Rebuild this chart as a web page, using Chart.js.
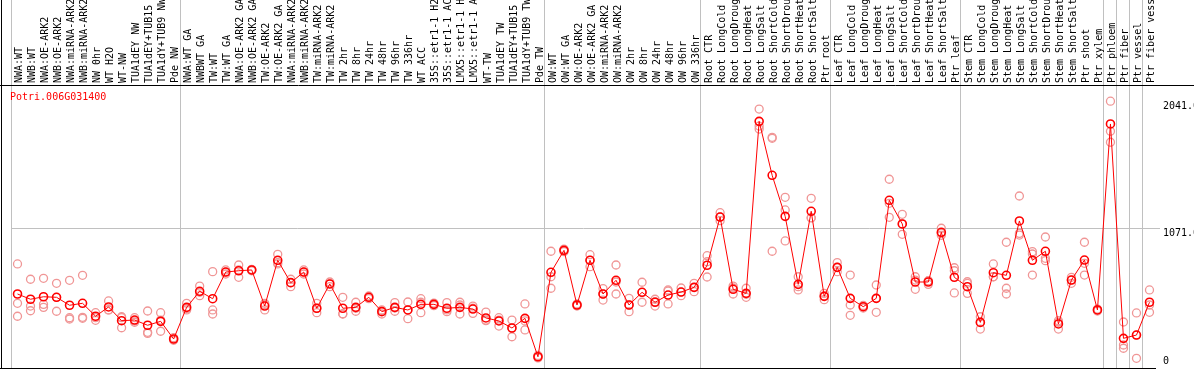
<!DOCTYPE html>
<html>
<head>
<meta charset="utf-8">
<script src="https://cdn.jsdelivr.net/npm/chart.js@4.4.1/dist/chart.umd.min.js"></script>
<style>
html,body{margin:0;padding:0;background:#fff;}
canvas{display:block;}
</style>
</head>
<body>
<canvas id="chart" width="1194" height="370"></canvas>
<script>
var geneName = 'Potri.006G031400';

var sampleLabels = ['NWA:WT','NWB:WT','NWA:OE-ARK2','NWB:OE-ARK2','NWA:miRNA-ARK2','NWB:miRNA-ARK2','NW 0hr','WT H2O','WT-NW','TUA1dEY NW',
  'TUA1dEY+TUB15 NW','TUA1dY+TUB9 NW','Pde NW','NWA:WT GA','NWBWT GA','TW:WT','TW:WT GA','NWA:OE-ARK2 GA','NWB:OE-ARK2 GA','TW:OE-ARK2',
  'TW:OE-ARK2 GA','NWA:miRNA-ARK2 GA','NWB:miRNA-ARK2 GA','TW:miRNA-ARK2','TW:miRNA-ARK2 GA','TW 2hr','TW 8hr','TW 24hr','TW 48hr','TW 96hr',
  'TW 336hr','WT ACC','35S::etr1-1 H2O','35S::etr1-1 ACC','LMX5::etr1-1 H2O','LMX5::etr1-1 ACC','WT-TW','TUA1dEY TW','TUA1dEY+TUB15 TW','TUA1dY+TUB9 TW',
  'Pde TW','OW:WT','OW:WT GA','OW:OE-ARK2','OW:OE-ARK2 GA','OW:miRNA-ARK2','OW:miRNA-ARK2 GA','OW 2hr','OW 8hr','OW 24hr',
  'OW 48hr','OW 96hr','OW 336hr','Root CTR','Root LongCold','Root LongDrought','Root LongHeat','Root LongSalt','Root ShortCold','Root ShortDrought',
  'Root ShortHeat','Root ShortSalt','Ptr root','Leaf CTR','Leaf LongCold','Leaf LongDrought','Leaf LongHeat','Leaf LongSalt','Leaf ShortCold','Leaf ShortDrought',
  'Leaf ShortHeat','Leaf ShortSalt','Ptr leaf','Stem CTR','Stem LongCold','Stem LongDrought','Stem LongHeat','Stem LongSalt','Stem ShortCold','Stem ShortDrought',
  'Stem ShortHeat','Stem ShortSalt','Ptr shoot','Ptr xylem','Ptr phloem','Ptr fiber','Ptr vessel','Ptr fiber vessel'];

var meanValues = [566,526,545,541,480,495,396,467,362,367,
  327,357,222,464,587,530,734,744,750,474,
  824,653,734,457,643,457,464,541,431,464,
  444,487,487,457,464,451,383,360,306,380,
  86,732,900,482,824,566,671,482,579,503,
  558,581,617,786,1155,602,571,1887,1474,1160,
  640,1199,548,770,533,469,533,1283,1102,658,
  658,1038,694,622,349,729,709,1125,824,893,
  337,673,826,444,1867,227,252,503];

var rep1 = [796,679,686,648,671,709,423,513,392,385,
  436,423,232,495,627,737,750,788,755,495,
  870,679,750,495,658,541,503,551,444,500,
  505,530,497,500,503,474,428,385,367,490,
  96,893,910,490,867,607,788,533,656,526,
  597,612,648,859,1188,627,610,1981,1765,1306,
  698,1298,571,806,711,478,635,1444,1176,698,
  668,1069,767,660,392,796,962,1316,890,1002,
  362,694,962,451,2041,352,421,597];

var rep2 = [495,474,487,541,385,388,385,444,385,360,
  273,367,222,454,579,444,734,694,744,484,
  806,622,734,423,622,415,434,541,413,434,
  377,423,487,431,413,418,362,321,239,360,
  86,698,900,482,775,520,566,431,503,474,
  490,553,584,696,1127,566,541,1851,1757,1209,
  622,1150,551,737,482,469,426,1260,1023,602,
  640,1015,744,648,298,698,610,1030,872,839,
  298,648,801,444,1811,176,74,482];

var rep3 = [396,438,464,434,375,380,365,444,308,350,
  265,281,212,444,553,413,719,750,750,444,
  796,653,719,457,643,413,457,530,436,459,
  444,503,477,444,482,457,367,367,306,291,
  77,610,890,474,824,566,658,482,579,507,
  589,581,617,813,1155,612,564,1828,893,972,
  597,1148,523,770,403,459,533,1153,1102,673,
  666,1030,574,571,352,698,566,1017,711,821,
  350,673,711,436,1727,151,252,426];

var yTickValues = [0, 1071, 2041];
var yMax = 2165;
// grid lines at the left edge of these columns (group separators)
var groupBreaks = [0, 13, 41, 53, 63, 73, 84, 85, 86, 87, 88];

var monoFont = {family: '"DejaVu Sans Mono", monospace', size: 10};

var framePlugin = {
  id: 'frame',
  afterDraw: function(chart) {
    var ctx = chart.ctx, a = chart.chartArea;
    ctx.save();
    ctx.strokeStyle = '#000';
    ctx.lineWidth = 1;
    ctx.beginPath();
    ctx.moveTo(0, a.top + 0.5); ctx.lineTo(chart.width, a.top + 0.5);
    ctx.moveTo(0, a.bottom + 0.5); ctx.lineTo(a.right, a.bottom + 0.5);
    ctx.moveTo(1.5, 0); ctx.lineTo(1.5, a.bottom + 1);
    ctx.stroke();
    ctx.fillStyle = '#ff0000';
    ctx.font = '10px "DejaVu Sans Mono", monospace';
    ctx.textBaseline = 'middle';
    ctx.fillText(geneName, a.left - 1, a.top + 12);
    ctx.restore();
  }
};

function repSet(values) {
  return {
    data: values,
    showLine: false,
    pointStyle: 'circle',
    pointRadius: 4,
    pointBorderWidth: 1.3,
    pointBorderColor: '#f09696',
    pointBackgroundColor: 'rgba(0,0,0,0)'
  };
}

function noPad(s) {
  s.paddingTop = 0; s.paddingBottom = 0; s.paddingLeft = 0; s.paddingRight = 0;
}

new Chart(document.getElementById('chart'), {
  type: 'line',
  data: {
    labels: sampleLabels,
    datasets: [{
      data: meanValues,
      borderColor: '#ff0000',
      borderWidth: 1,
      tension: 0,
      pointStyle: 'circle',
      pointRadius: 4,
      pointBorderWidth: 1.6,
      pointBorderColor: '#ff0000',
      pointBackgroundColor: 'rgba(0,0,0,0)'
    }, repSet(rep1), repSet(rep2), repSet(rep3)]
  },
  options: {
    responsive: false,
    animation: false,
    events: [],
    layout: {autoPadding: false, padding: {left: 11, right: 0, top: 0, bottom: 2}},
    plugins: {legend: {display: false}, tooltip: {enabled: false}},
    scales: {
      x: {
        position: 'top',
        offset: true,
        grid: {
          offset: true,
          tickLength: 85,
          lineWidth: 1,
          color: function(c) { return groupBreaks.indexOf(c.index) >= 0 ? '#c0c0c0' : 'rgba(0,0,0,0)'; }
        },
        border: {display: false},
        ticks: {
          autoSkip: false,
          minRotation: 90,
          maxRotation: 90,
          padding: -83,
          labelOffset: 14,
          color: '#000',
          font: monoFont
        },
        afterFit: function(s) { s.height = 85; noPad(s); }
      },
      y: {
        position: 'right',
        min: 0,
        max: yMax,
        grid: {
          tickLength: 4,
          color: function(c) { return c.tick && c.tick.value === 1071 ? '#c0c0c0' : 'rgba(0,0,0,0)'; }
        },
        border: {display: false},
        afterBuildTicks: function(s) { s.ticks = yTickValues.map(function(v) { return {value: v}; }); },
        ticks: {
          padding: 3,
          labelOffset: 5,
          color: '#000',
          font: monoFont,
          callback: function(v) { return v === 0 ? ['0', '', ''] : v.toFixed(2); }
        },
        afterFit: function(s) { s.width = 38; noPad(s); }
      }
    }
  },
  plugins: [framePlugin]
});
</script>
</body>
</html>
